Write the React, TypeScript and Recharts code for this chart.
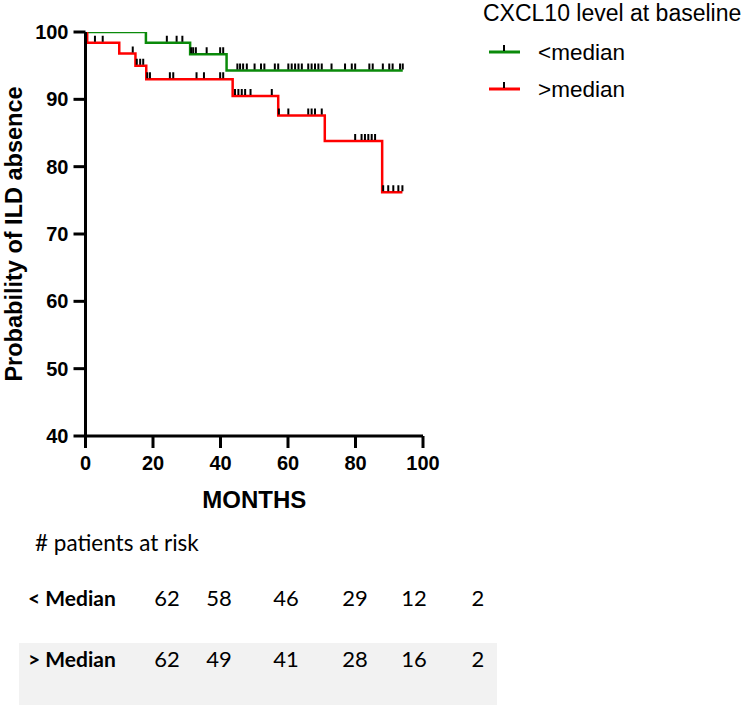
import React from 'react';
import { ComposedChart, Line, Scatter, XAxis, YAxis, Legend, Label } from 'recharts';

// Kaplan-Meier step curves (months, % ILD-free)
const greenStepTimes = [0, 17.9, 31.0, 41.8, 94.0];
const greenStepValues = [100, 98.4, 96.7, 94.3, 94.3];
const redStepTimes = [0, 0.5, 10.0, 14.8, 18.0, 43.6, 57.1, 70.9, 87.9, 93.9];
const redStepValues = [100, 98.4, 96.8, 95.0, 93.0, 90.5, 87.6, 83.8, 76.2, 76.2];

// Censored observations
const greenCensorTimes = [
  2.8, 11.7, 14.0,
  24.1, 27.0, 28.7,
  31.3, 31.9, 32.7, 35.9, 39.9, 40.8,
  45.0, 45.8, 46.7, 47.8, 50.1, 52.0, 53.0, 56.1, 57.1, 60.1, 61.1, 62.1, 63.1, 64.1,
  66.0, 67.0, 68.0, 69.0, 70.0, 72.9, 76.9, 78.9, 79.9, 84.1, 85.1, 88.1, 90.0, 91.0, 93.2, 94.0,
];
const greenCensorValues = [
  100, 100, 100,
  98.4, 98.4, 98.4,
  96.7, 96.7, 96.7, 96.7, 96.7, 96.7,
  94.3, 94.3, 94.3, 94.3, 94.3, 94.3, 94.3, 94.3, 94.3, 94.3, 94.3, 94.3, 94.3, 94.3,
  94.3, 94.3, 94.3, 94.3, 94.3, 94.3, 94.3, 94.3, 94.3, 94.3, 94.3, 94.3, 94.3, 94.3, 94.3, 94.3,
];
const redCensorTimes = [
  2.8, 5.1,
  14.0,
  15.2, 16.2, 17.1,
  18.3, 19.1, 25.0, 26.0, 32.9, 35.1, 39.9, 40.8,
  44.3, 45.3, 46.3, 47.3, 48.9, 55.2,
  57.3, 60.1, 66.0, 67.0, 68.0, 70.0,
  79.9, 81.8, 82.8, 83.8, 84.8, 85.8,
  88.2, 89.7, 91.2, 92.7, 93.9,
];
const redCensorValues = [
  98.4, 98.4,
  96.8,
  95.0, 95.0, 95.0,
  93.0, 93.0, 93.0, 93.0, 93.0, 93.0, 93.0, 93.0,
  90.5, 90.5, 90.5, 90.5, 90.5, 90.5,
  87.6, 87.6, 87.6, 87.6, 87.6, 87.6,
  83.8, 83.8, 83.8, 83.8, 83.8, 83.8,
  76.2, 76.2, 76.2, 76.2, 76.2,
];

const xTicks = [0, 20, 40, 60, 80, 100];
const yTicks = [40, 50, 60, 70, 80, 90, 100];

const seriesNames = ['<median', '>median'];
const seriesColors = ['#0a8a0a', '#ff0000'];
const legendTitle = 'CXCL10 level at baseline';

const riskTitle = '# patients at risk';
const riskRowLabels = ['< Median', '> Median'];
const riskBelow = [62, 58, 46, 29, 12, 2];
const riskAbove = [62, 49, 41, 28, 16, 2];

const zip = (ts: number[], vs: number[]) => ts.map((t, i) => ({ t, v: vs[i] }));
const greenStep = zip(greenStepTimes, greenStepValues);
const redStep = zip(redStepTimes, redStepValues);
const greenCens = zip(greenCensorTimes, greenCensorValues);
const redCens = zip(redCensorTimes, redCensorValues);

const CensorMark = (props: any) => {
  const { cx, cy } = props;
  if (cx == null || cy == null) return null;
  return <line x1={cx} y1={cy - 1} x2={cx} y2={cy - 7} stroke="#000" strokeWidth={2} />;
};

const AXIS_FONT = '"Liberation Sans", Arial, sans-serif';

const LEGEND_H = 105;

const LegendContent = () => (
  <svg width={270} height={LEGEND_H} style={{ display: 'block' }}>
    <text x={3} y={21} fontFamily={AXIS_FONT} fontSize={23} fill="#000">{legendTitle}</text>
    {seriesNames.map((n, i) => {
      const y = 52 + i * 37;
      return (
        <g key={n}>
          <line x1={9} x2={40} y1={y} y2={y} stroke={seriesColors[i]} strokeWidth={3} />
          <line x1={24} x2={24} y1={y - 1} y2={y - 7} stroke="#000" strokeWidth={2} />
          <text x={58} y={y + 8} fontFamily={AXIS_FONT} fontSize={22.5} fill="#000">{n}</text>
        </g>
      );
    })}
  </svg>
);

const TABLE_FONT = 'Lato, "Noto Sans", sans-serif';
const colX = [167, 219, 286, 355, 414, 478];

export default function App() {
  return (
    <div style={{ position: 'absolute', left: 0, top: 0, width: 750, height: 705, background: '#fff' }}>
      <ComposedChart
        width={750}
        height={705}
        margin={{ top: 32, right: 327, bottom: 209 - LEGEND_H, left: 25.5 }}
      >
        <XAxis
          type="number"
          dataKey="t"
          domain={[0, 100]}
          ticks={xTicks}
          allowDataOverflow
          height={60}
          tickSize={12}
          tickMargin={8}
          axisLine={{ stroke: '#000', strokeWidth: 3 }}
          tickLine={{ stroke: '#000', strokeWidth: 3 }}
          tick={{ fill: '#000', fontSize: 20, fontWeight: 700, fontFamily: AXIS_FONT }}
        >
          <Label
            content={(p: any) => {
              const vb = p.viewBox || {};
              const cx = (vb.x ?? 85.5) + (vb.width ?? 337.5) / 2;
              const top = vb.y ?? 436;
              return (
                <text x={cx} y={top + 72} textAnchor="middle" fontFamily={AXIS_FONT} fontWeight={700} fontSize={24} fill="#000">
                  MONTHS
                </text>
              );
            }}
          />
        </XAxis>
        <YAxis
          type="number"
          domain={[40, 100]}
          ticks={yTicks}
          allowDataOverflow
          width={60}
          tickSize={12}
          tickMargin={5}
          axisLine={{ stroke: '#000', strokeWidth: 3 }}
          tickLine={{ stroke: '#000', strokeWidth: 3 }}
          tick={{ fill: '#000', fontSize: 20, fontWeight: 700, fontFamily: AXIS_FONT }}
        >
          <Label
            content={(p: any) => {
              const vb = p.viewBox || {};
              const cy = (vb.y ?? 32) + (vb.height ?? 404) / 2;
              return (
                <text
                  transform={`translate(22, ${cy}) rotate(-90)`}
                  textAnchor="middle"
                  fontFamily={AXIS_FONT}
                  fontWeight={700}
                  fontSize={23.5}
                  fill="#000"
                >
                  Probability of ILD absence
                </text>
              );
            }}
          />
        </YAxis>
        <Legend
          content={() => <LegendContent />}
          wrapperStyle={{ position: 'absolute', left: 480, top: 0, width: 270, height: LEGEND_H }}
        />
        <Line
          data={greenStep}
          dataKey="v"
          name={seriesNames[0]}
          type="stepAfter"
          stroke={seriesColors[0]}
          strokeWidth={2.5}
          dot={false}
          activeDot={false}
          isAnimationActive={false}
        />
        <Line
          data={redStep}
          dataKey="v"
          name={seriesNames[1]}
          type="stepAfter"
          stroke={seriesColors[1]}
          strokeWidth={2.5}
          dot={false}
          activeDot={false}
          isAnimationActive={false}
        />
        <Scatter data={greenCens} dataKey="v" shape={CensorMark} isAnimationActive={false} legendType="none" />
        <Scatter data={redCens} dataKey="v" shape={CensorMark} isAnimationActive={false} legendType="none" />
      </ComposedChart>
      <svg width={750} height={705} style={{ position: 'absolute', left: 0, top: 0, pointerEvents: 'none' }}>
        <rect x={19} y={643} width={478} height={62} fill="#f2f2f2" />
        <text x={35} y={551} fontFamily={TABLE_FONT} fontSize={22.5} fill="#000">{riskTitle}</text>
        {[riskBelow, riskAbove].map((row, ri) => {
          const y = ri === 0 ? 606 : 667;
          return (
            <g key={ri}>
              <text x={28} y={y} fontFamily={TABLE_FONT} fontWeight={700} fontSize={21} fill="#000">
                {riskRowLabels[ri]}
              </text>
              {row.map((v, ci) => (
                <text key={ci} x={colX[ci]} y={y} textAnchor="middle" fontFamily={TABLE_FONT} fontSize={22} fill="#000">
                  {v}
                </text>
              ))}
            </g>
          );
        })}
      </svg>
    </div>
  );
}
